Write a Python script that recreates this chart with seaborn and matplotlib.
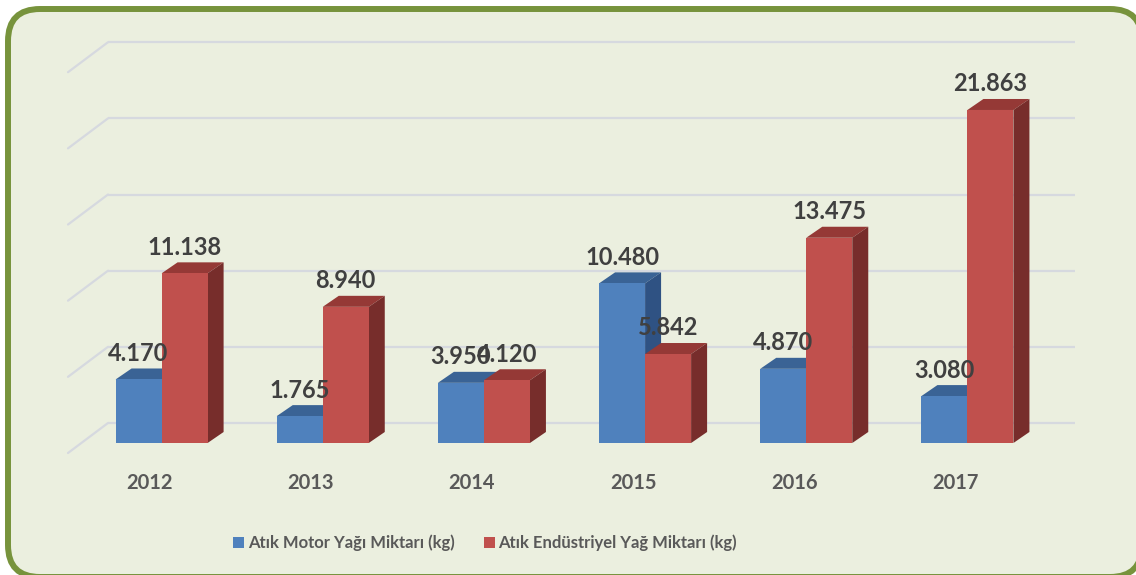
import numpy as np
import pandas as pd
import matplotlib
matplotlib.use("Agg")
import matplotlib.pyplot as plt
import matplotlib.transforms as mtransforms
from matplotlib.patches import Polygon, FancyBboxPatch, Patch
import seaborn as sns

# ---- data ----
years = ["2012", "2013", "2014", "2015", "2016", "2017"]
motor_oil = [4170, 1765, 3950, 10480, 4870, 3080]
industrial_oil = [11138, 8940, 4120, 5842, 13475, 21863]
series_names = ["Atık Motor Yağı Miktarı (kg)", "Atık Endüstriyel Yağ Miktarı (kg)"]
y_ticks = [0, 5000, 10000, 15000, 20000, 25000]

df = pd.DataFrame({
    "year": years * 2,
    "value": motor_oil + industrial_oil,
    "series": [series_names[0]] * len(years) + [series_names[1]] * len(years),
})

# ---- style ----
sns.set_theme(style="white")
plt.rcParams["font.family"] = ["Lato", "DejaVu Sans"]
plt.rcParams["font.weight"] = "bold"

W, H = 1136, 575
DPI = 100
BLUE, RED = "#4F81BD", "#C0504D"
BLUE_TOP, BLUE_SIDE = "#3A6395", "#2F5283"
RED_TOP, RED_SIDE = "#953936", "#772D2B"
PANEL = "#EBEFDF"
BORDER = "#77933C"
GRID = "#D6D9DF"
LABEL = "#404040"
AXTXT = "#595959"

fig = plt.figure(figsize=(W / DPI, H / DPI), dpi=DPI, facecolor="white")
ident = mtransforms.IdentityTransform()

# rounded panel with green border (display pixel coordinates)
panel = FancyBboxPatch((8, -2), 1134, 568, boxstyle="round,pad=0,rounding_size=32",
                       facecolor=PANEL, edgecolor=BORDER, linewidth=4.3,
                       transform=ident, zorder=0)
fig.add_artist(panel)

ax = fig.add_axes([81 / W, (H - 443) / H, (1048 - 81) / W, (443 - 62.2) / H])
ax.patch.set_visible(False)

sns.barplot(data=df, x="year", y="value", hue="series", palette=[BLUE, RED],
            width=0.571, saturation=1, legend=False, ax=ax,
            edgecolor="none", linewidth=0)

ax.set_xlim(-0.5, len(years) - 0.5)
ax.set_ylim(0, y_ticks[-1])
ax.set_xticks([])
ax.set_yticks([])
ax.set_xlabel("")
ax.set_ylabel("")
for s in ax.spines.values():
    s.set_visible(False)

# depth offsets (pixels)
BACK = (27, 20)     # bar plane -> back wall
FRONT = (-13, -10)  # bar plane -> front floor
BAR_D = (16, 11)    # bar depth

def px_offset(dx, dy):
    return mtransforms.ScaledTranslation(dx / DPI, dy / DPI, fig.dpi_scale_trans)

fig.canvas.draw()

# gridlines on back wall + left wall diagonals
for v in y_ticks:
    ax.plot([-0.5, len(years) - 0.5], [v, v], color=GRID, lw=1.6,
            transform=ax.transData + px_offset(*BACK), zorder=1, clip_on=False,
            solid_capstyle="butt")
    p = ax.transData.transform((-0.5, v))
    back = p + np.array(BACK)
    front = p + np.array(FRONT)
    ax.plot([back[0], front[0]], [back[1], front[1]], color=GRID, lw=1.6,
            transform=ident, zorder=1, clip_on=False)

# 3D faces for bars
tops = [BLUE_TOP, RED_TOP]
sides = [BLUE_SIDE, RED_SIDE]
dx, dy = BAR_D
for k, cont in enumerate(ax.containers):
    for i, bar in enumerate(cont):
        x0 = bar.get_x()
        x1 = x0 + bar.get_width()
        h = bar.get_height()
        br = ax.transData.transform((x1, 0))
        tl = ax.transData.transform((x0, h))
        tr = ax.transData.transform((x1, h))
        z = 3 + i * 0.1 + k * 0.04
        top = Polygon([tl, tr, tr + [dx, dy], tl + [dx, dy]], closed=True,
                      facecolor=tops[k], edgecolor="none", transform=ident,
                      zorder=z, clip_on=False)
        side = Polygon([br, tr, tr + [dx, dy], br + [dx, dy]], closed=True,
                       facecolor=sides[k], edgecolor="none", transform=ident,
                       zorder=z, clip_on=False)
        ax.add_patch(top)
        ax.add_patch(side)
        top.set_transform(ident)
        side.set_transform(ident)
        bar.set_zorder(z + 0.02)
        txt = f"{int(h):,}".replace(",", ".")
        ax.annotate(txt, xy=(x0 + bar.get_width() / 2, h), xytext=(0, 10.5),
                    textcoords="offset points", ha="center", va="bottom",
                    fontsize=17, fontweight="bold", color=LABEL, zorder=20,
                    annotation_clip=False)

# year labels on the front floor
for i, yr in enumerate(years):
    ax.text(i, 0, yr, transform=ax.transData + px_offset(-12, -40),
            ha="center", va="center", fontsize=14.5, fontweight="bold",
            color=AXTXT, clip_on=False)

# legend
handles = [Patch(facecolor=BLUE, edgecolor="none"), Patch(facecolor=RED, edgecolor="none")]
fig.legend(handles, series_names, loc="center", bbox_to_anchor=(485 / W, (H - 543) / H),
           ncol=2, frameon=False, handlelength=0.68, handleheight=0.68,
           handletextpad=0.2, columnspacing=1.75,
           prop={"family": ["Lato", "DejaVu Sans"], "weight": "bold", "size": 12},
           labelcolor=AXTXT)

fig.savefig("out.png", dpi=DPI, facecolor="white")
